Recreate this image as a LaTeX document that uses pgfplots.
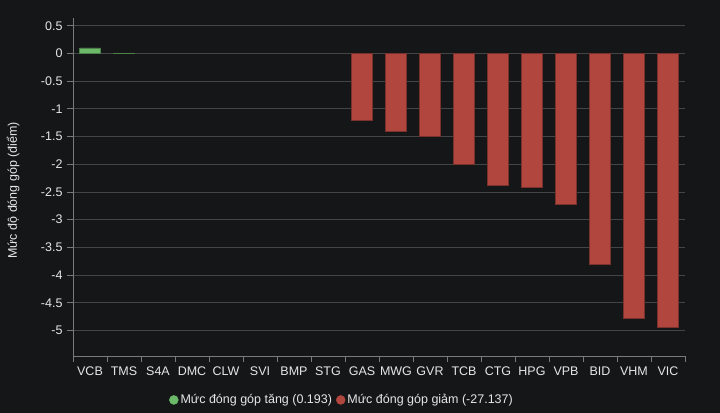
\documentclass[border=0pt]{standalone}
\usepackage{fontspec}
\setmainfont{Liberation Sans}
\usepackage{pgfplots}
\pgfplotsset{compat=1.18}

\definecolor{bg}{HTML}{151618}
\definecolor{gridc}{HTML}{434446}
\definecolor{axisc}{HTML}{7A7A7A}
\definecolor{txt}{HTML}{E6E6E6}
\definecolor{upc}{HTML}{6DB96A}
\definecolor{downc}{HTML}{B0463D}

\begin{document}
\begin{tikzpicture}
\fill[bg] (0,0) rectangle (720bp,413bp);
\begin{axis}[
    at={(73bp,57bp)}, anchor=south west,
    scale only axis,
    width=612bp, height=338bp,
    ybar, bar width=20.7bp, bar shift=0pt,
    xmin=-0.5, xmax=17.5,
    ymin=-5.46, ymax=0.64,
    axis x line*=bottom, axis y line*=left,
    axis line style={axisc, line width=0.8bp, -},
    xtick={0,...,17},
    xticklabels={VCB,TMS,S4A,DMC,CLW,SVI,BMP,STG,GAS,MWG,GVR,TCB,CTG,HPG,VPB,BID,VHM,VIC},
    major x tick style={draw=none},
    minor xtick={-0.5,0.5,...,17.5},
    minor x tick style={axisc, line width=0.8bp},
    minor tick length=6bp,
    ytick={-5,-4.5,...,0.5},
    y tick style={axisc, line width=0.8bp},
    major tick length=6bp,
    tick align=outside,
    ymajorgrids,
    grid style={gridc, line width=0.8bp},
    ticklabel style={txt, font=\fontsize{12.5bp}{14bp}\selectfont},
    xticklabel style={yshift=-1bp},
    yticklabel style={xshift=-1bp},
    /pgf/number format/assume math mode=true,
    yticklabel={\pgfmathprintnumber[fixed,precision=1]{\tick}},
    ylabel={Mức độ đóng góp (điểm)},
    every axis y label/.style={at={(axis description cs:-0.098,0.49)}, rotate=90, anchor=center, txt, font=\fontsize{12.5bp}{14bp}\selectfont},
    legend style={at={(axis description cs:0.4395,-0.130)}, anchor=center,
        draw=none, fill=none, text=txt, font=\fontsize{12.5bp}{14bp}\selectfont,
        legend columns=2, /tikz/every even column/.append style={column sep=2bp}},
    legend cell align=left,
]
\addplot[fill=upc, draw=upc!70!black, line width=0.4bp,
    legend image code/.code={\fill[upc] (0bp,0bp) circle (4.5bp);}]
    coordinates {(0,0.10) (1,0.005)};
\addlegendentry{Mức đóng góp tăng (0.193)}
\addplot[fill=downc, draw=downc!70!black, line width=0.4bp,
    legend image code/.code={\fill[downc] (0bp,0bp) circle (4.5bp);}]
    coordinates {(8,-1.20) (9,-1.40) (10,-1.50) (11,-2.00) (12,-2.38) (13,-2.42)
                 (14,-2.72) (15,-3.80) (16,-4.77) (17,-4.94)};
\addlegendentry{Mức đóng góp giảm (-27.137)}
\end{axis}
\pgfresetboundingbox
\useasboundingbox (0,0) rectangle (720bp,413bp);
\end{tikzpicture}
\end{document}
